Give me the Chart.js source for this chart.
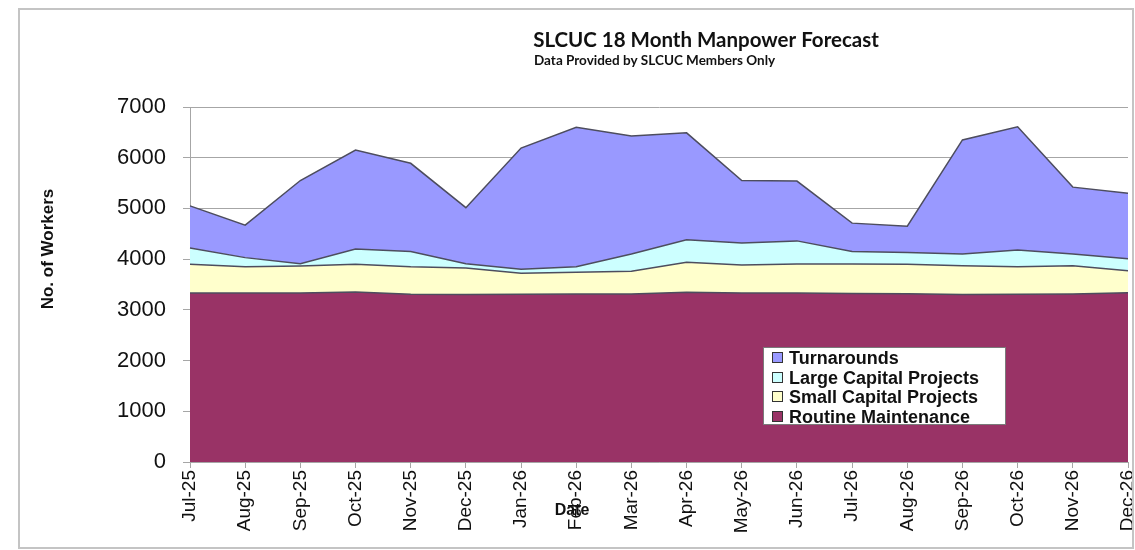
<!DOCTYPE html>
<html lang="en">

<head>
    <meta charset="UTF-8">
    <title>SLCUC 18 Month Manpower Forecast</title>
    <style>
        body { margin: 0; background: #ffffff; }
        .moldura {
            position: absolute; left: 18px; top: 8px;
            width: 1112px; height: 537px;
            border: 2px solid #c4c4c4; overflow: hidden; background: #fff;
        }
        .chart-legend {
            position: absolute; left: 763px; top: 347px;
            width: 243px; height: 78px;
            background: #fff; border: 1px solid #7a7a7a;
            font-family: "Liberation Sans", Arial, sans-serif;
            font-weight: bold; font-size: 18px; color: #111;
            padding-top: 1px; box-sizing: border-box;
        }
        .legend-item { height: 19.5px; line-height: 19.5px; white-space: nowrap; }
        .legend-color {
            display: inline-block; width: 9px; height: 9px;
            border: 1px solid #333; margin: 0 6px 0 8px; vertical-align: 1px;
        }
    </style>
</head>

<body>
    <div class="moldura">
        <canvas id="myChart" width="1112" height="537"></canvas>
    </div>
    <div class="chart-legend" id="div_legenda"></div>

    <script src="https://cdn.jsdelivr.net/npm/chart.js"></script>
    <script>
        var meses = ['Jul-25', 'Aug-25', 'Sep-25', 'Oct-25', 'Nov-25', 'Dec-25', 'Jan-26', 'Feb-26', 'Mar-26',
            'Apr-26', 'May-26', 'Jun-26', 'Jul-26', 'Aug-26', 'Sep-26', 'Oct-26', 'Nov-26', 'Dec-26'];

        var routineMaintenance = [3330, 3330, 3330, 3350, 3310, 3305, 3310, 3315, 3315, 3345, 3330, 3330, 3325, 3320, 3305, 3310, 3315, 3335];
        var smallCapital = [570, 520, 535, 550, 540, 520, 410, 425, 445, 595, 555, 575, 580, 580, 565, 540, 555, 435];
        var largeCapital = [320, 180, 45, 300, 300, 85, 80, 110, 340, 440, 435, 455, 245, 230, 230, 330, 230, 240];
        var turnarounds = [830, 640, 1640, 1950, 1740, 1105, 2390, 2750, 2330, 2110, 1230, 1180, 560, 520, 2250, 2430, 1320, 1290];

        var yTicks = [0, 1000, 2000, 3000, 4000, 5000, 6000, 7000];

        var fonteArial = '"Liberation Sans", Arial, sans-serif';

        // textos do titulo e eixos
        var textosPlugin = {
            id: 'textos',
            afterDraw: function (chart) {
                var ctx = chart.ctx;
                ctx.save();
                ctx.fillStyle = '#111';
                ctx.textBaseline = 'alphabetic';

                ctx.font = 'bold 20.5px Lato, "Open Sans", sans-serif';
                ctx.textAlign = 'center';
                ctx.fillText('SLCUC 18 Month Manpower Forecast', 686, 37);

                ctx.font = 'bold 13.5px Lato, "Open Sans", sans-serif';
                ctx.textAlign = 'left';
                ctx.fillText('Data Provided by SLCUC Members Only', 514, 55);

                ctx.font = 'bold 17px ' + fonteArial;
                ctx.textAlign = 'center';
                ctx.textBaseline = 'middle';
                ctx.translate(28, 239);
                ctx.rotate(-Math.PI / 2);
                ctx.fillText('No. of Workers', 0, 0);
                ctx.restore();

                ctx.save();
                ctx.fillStyle = '#111';
                ctx.font = 'bold 16px "Liberation Sans Narrow", ' + fonteArial;
                ctx.textAlign = 'center';
                ctx.textBaseline = 'middle';
                ctx.fillText('Date', 552, 501);
                ctx.restore();
            }
        };

        function criarGrafico() {
            var ctx = document.getElementById('myChart').getContext('2d');
            var linha = '#4d4d5e';

            var chart = new Chart(ctx, {
                type: 'line',
                data: {
                    labels: meses,
                    datasets: [
                        { label: 'Routine Maintenance', data: routineMaintenance, backgroundColor: '#993366', fill: 'origin' },
                        { label: 'Small Capital Projects', data: smallCapital, backgroundColor: '#ffffcc', fill: '-1' },
                        { label: 'Large Capital Projects', data: largeCapital, backgroundColor: '#ccffff', fill: '-1' },
                        { label: 'Turnarounds', data: turnarounds, backgroundColor: '#9999ff', fill: '-1' }
                    ].map(function (d) {
                        d.borderColor = linha;
                        d.borderWidth = 1.5;
                        d.pointRadius = 0;
                        d.tension = 0;
                        return d;
                    })
                },
                options: {
                    responsive: false,
                    animation: false,
                    layout: { padding: { left: 0, right: 4, top: 97, bottom: 0 } },
                    plugins: {
                        legend: { display: false },
                        tooltip: { enabled: false }
                    },
                    scales: {
                        x: {
                            offset: false,
                            grid: { display: true, drawOnChartArea: false, color: '#a6a6a6', tickLength: 6 },
                            border: { color: '#a6a6a6', width: 1 },
                            ticks: {
                                autoSkip: false, minRotation: 90, maxRotation: 90, padding: 2,
                                color: '#111', font: { family: fonteArial, size: 19 }
                            },
                            afterFit: function (scale) {
                                scale.height = 85;
                                scale.paddingLeft = 0;
                                scale.paddingRight = 0;
                            }
                        },
                        y: {
                            stacked: true,
                            min: 0,
                            max: 7000,
                            afterBuildTicks: function (scale) {
                                scale.ticks = yTicks.map(function (v) { return { value: v }; });
                            },
                            grid: { color: '#a6a6a6', lineWidth: 1, tickLength: 7 },
                            border: { color: '#a6a6a6', width: 1 },
                            ticks: {
                                padding: 17, color: '#111', font: { family: fonteArial, size: 22 },
                                callback: function (v) { return String(v); }
                            },
                            afterFit: function (scale) {
                                scale.width = 170;
                            }
                        }
                    }
                },
                plugins: [textosPlugin]
            });

            // legenda em html, ordem inversa da pilha
            var chartLegend = document.getElementById('div_legenda');
            var ds = chart.data.datasets;
            for (var i = ds.length - 1; i >= 0; i--) {
                var legendItem = document.createElement('div');
                legendItem.classList.add('legend-item');

                var legendColor = document.createElement('span');
                legendColor.classList.add('legend-color');
                legendColor.style.backgroundColor = ds[i].backgroundColor;

                var legendText = document.createElement('span');
                legendText.textContent = ds[i].label;

                legendItem.appendChild(legendColor);
                legendItem.appendChild(legendText);
                chartLegend.appendChild(legendItem);
            }
        }

        criarGrafico();
    </script>
</body>

</html>
